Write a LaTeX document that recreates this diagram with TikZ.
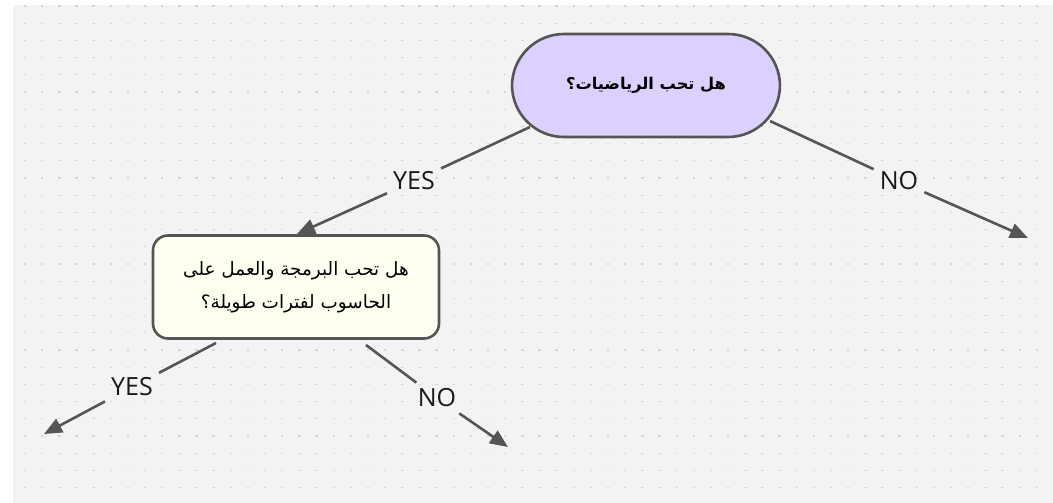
\documentclass[tikz,border=0pt]{standalone}
\usepackage{fontspec}
\setmainfont{Open Sans}
\newfontfamily\arabicfont[Script=Arabic]{DejaVu Sans}
\TeXXeTstate=1
\usetikzlibrary{arrows.meta}
\definecolor{bgc}{HTML}{F3F3F3}
\definecolor{dotc}{HTML}{D6D6D6}
\definecolor{linec}{HTML}{555555}
\definecolor{lav}{HTML}{DCD0FF}
\definecolor{ivory}{HTML}{FFFFF0}
\tikzset{
  qstart/.style={draw=linec, line width=2.6pt, fill=lav, rounded corners=52pt,
    minimum width=268pt, minimum height=103pt, inner sep=0pt, font=\arabicfont\bfseries\fontsize{16.2}{19}\selectfont},
  qbox/.style={draw=linec, line width=2.6pt, fill=ivory, rounded corners=15pt,
    minimum width=286pt, minimum height=103pt, inner sep=0pt, align=center,
    font=\arabicfont\fontsize{18.4}{33}\selectfont},
  lbl/.style={font=\fontsize{25}{28}\selectfont, inner sep=6pt, text=black!90},
  edge/.style={draw=linec, line width=2.6pt},
  arr/.style={edge, -{Triangle[length=18pt,width=15pt]}}
}
\begin{document}
\begin{tikzpicture}[x=1pt,y=-1pt]
\useasboundingbox (0,0) rectangle (1053,503);
\fill[bgc] (13,5) rectangle (1053,503);
\foreach \i in {0,...,60}{
  \foreach \j in {0,...,28}{
    \fill[dotc] ({25+17.15*\i-1.2},{6+17.2*\j-0.6}) rectangle +(2.4,1.2);
  }
}
\node[qstart] (q1) at (646,85.5) {\beginR هل تحب الرياضيات؟\endR};
\node[qbox] (q2) at (296,287) {\beginR هل تحب البرمجة والعمل على\endR\\\beginR الحاسوب لفترات طويلة؟\endR};

\coordinate (s1) at (530,127);
\coordinate (t1) at (297,234);
\node[lbl] (l1) at (414,181) {YES};
\draw[edge] (s1) -- (l1);
\draw[arr] (l1) -- (t1);

\coordinate (s2) at (770,121);
\coordinate (t2) at (1028,238);
\node[lbl] (l2) at (899,181) {NO};
\draw[edge] (s2) -- (l2);
\draw[arr] (l2) -- (t2);

\coordinate (s3) at (216,343);
\coordinate (t3) at (44,434);
\node[lbl] (l3) at (132,387) {YES};
\draw[edge] (s3) -- (l3);
\draw[arr] (l3) -- (t3);

\coordinate (s4) at (366,345);
\coordinate (t4) at (508,447);
\node[lbl] (l4) at (437,398) {NO};
\draw[edge] (s4) -- (l4);
\draw[arr] (l4) -- (t4);
\end{tikzpicture}
\end{document}
